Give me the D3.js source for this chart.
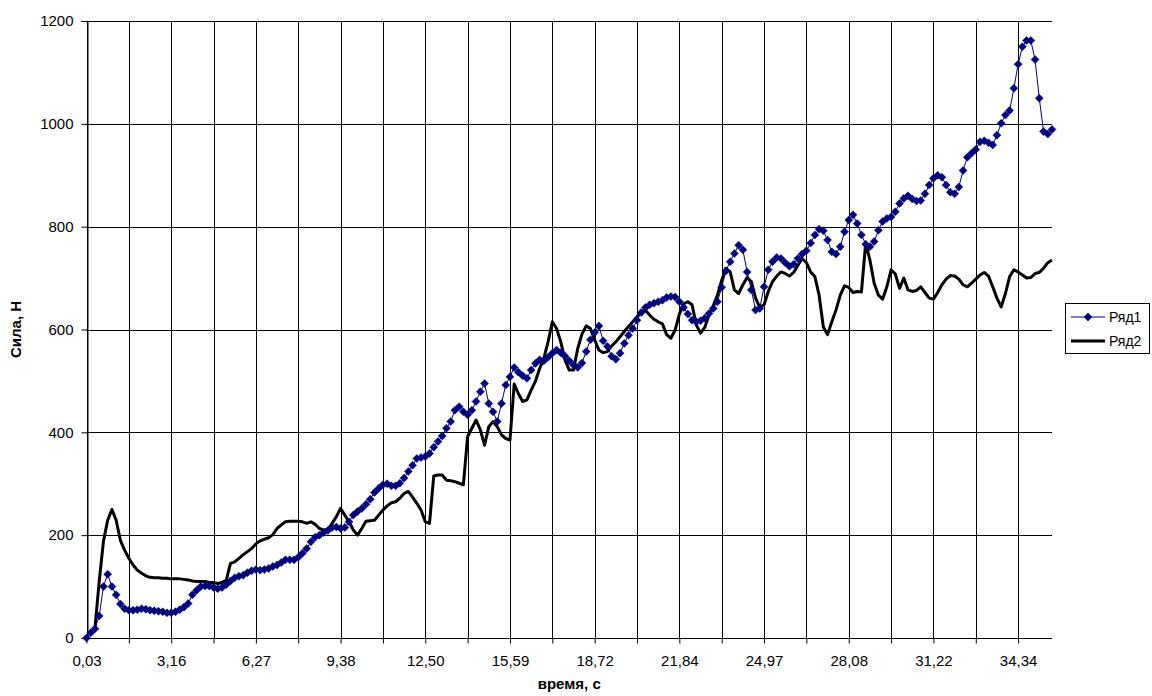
<!DOCTYPE html>
<html>
<head>
<meta charset="utf-8">
<script src="https://cdn.jsdelivr.net/npm/d3@7"></script>
<style>
  body { margin: 0; background: #fff; }
  svg { display: block; }
  text { font-family: Arial, "Liberation Sans", sans-serif; fill: #000; }
</style>
</head>
<body>
<svg id="chart" width="1152" height="696"></svg>
<script>
// ---------------- data ----------------
const seriesNames = ["Ряд1", "Ряд2"];
const xTitle = "время, с";
const yTitle = "Сила, Н";
// category labels shown on the axis (every 20th sample)
const tickLabels = ["0,03", "3,16", "6,27", "9,38", "12,50", "15,59", "18,72", "21,84", "24,97", "28,08", "31,22", "34,34"];
const yTicks = [0, 200, 400, 600, 800, 1000, 1200];

const ryad1 = [
  0, 10, 18, 43, 100, 124, 100, 84, 66, 57,
  54, 54, 55, 57, 56, 54, 53, 52, 51, 49,
  49, 51, 55, 60, 67, 84, 93, 100, 101, 101,
  98, 96, 98, 104, 111, 117, 120, 122, 127, 131,
  133, 132, 133, 135, 139, 142, 147, 152, 152, 152,
  157, 165, 174, 187, 196, 200, 205, 209, 215, 216,
  213, 215, 226, 239, 246, 252, 260, 270, 283, 291,
  298, 300, 296, 296, 301, 311, 324, 336, 349, 351,
  353, 359, 371, 382, 393, 408, 421, 443, 450, 440,
  434, 443, 460, 479, 495, 456, 440, 421, 456, 492,
  508, 526, 517, 510, 505, 521, 534, 541, 539, 546,
  554, 560, 555, 548, 539, 531, 526, 535, 557, 580,
  594, 607, 578, 567, 548, 542, 554, 573, 589, 602,
  618, 633, 643, 648, 651, 654, 657, 662, 664, 663,
  654, 643, 630, 618, 615, 617, 622, 631, 641, 654,
  682, 714, 732, 748, 764, 755, 712, 677, 638, 641,
  683, 716, 732, 740, 738, 730, 723, 727, 738, 747,
  753, 768, 784, 795, 792, 774, 751, 747, 761, 790,
  813, 823, 806, 784, 766, 761, 771, 793, 810, 816,
  819, 829, 845, 855, 860, 854, 850, 851, 864, 881,
  894, 900, 896, 881, 867, 864, 877, 909, 935, 943,
  950, 965, 967, 963, 959, 978, 1001, 1017, 1026, 1069,
  1116, 1150, 1162, 1162, 1125, 1050, 985, 980, 989
];

const ryad2 = [
  null, null, 19, 110, 188, 229, 250, 229, 190, 171,
  155, 142, 132, 126, 121, 118, 117, 117, 116, 116,
  115, 115, 115, 114, 113, 111, 110, 110, 110, 108,
  108, 106, 108, 112, 145, 148, 155, 162, 168, 174,
  183, 189, 192, 195, 201, 213, 220, 226, 227, 227,
  227, 226, 223, 226, 221, 213, 210, 211, 223, 236,
  252, 239, 226, 210, 200, 213, 227, 228, 229, 239,
  249, 257, 263, 265, 272, 281, 285, 274, 262, 249,
  226, 223, 315, 317, 317, 307, 306, 304, 301, 298,
  392, 408, 424, 405, 375, 411, 421, 411, 395, 388,
  385, 494, 475, 460, 463, 482, 499, 524, 544, 576,
  615, 602, 576, 541, 521, 521, 563, 591, 607, 602,
  580, 560, 555, 557, 568, 576, 586, 596, 606, 615,
  625, 633, 637, 628, 620, 615, 611, 590, 583, 599,
  630, 650, 654, 648, 609, 593, 604, 628, 646, 667,
  696, 719, 712, 677, 670, 687, 701, 693, 661, 643,
  648, 674, 693, 704, 712, 709, 704, 711, 725, 738,
  730, 712, 703, 667, 605, 590, 615, 638, 667, 685,
  682, 672, 674, 673, 768, 735, 690, 667, 659, 683,
  716, 708, 680, 700, 677, 674, 676, 683, 672, 661,
  659, 672, 687, 698, 705, 704, 698, 687, 683, 690,
  698, 706, 711, 704, 683, 661, 644, 670, 703, 716,
  712, 706, 700, 701, 709, 711, 719, 730, 735
];

// ---------------- layout ----------------
const plot = { left: 86.5, right: 1052, top: 21, bottom: 638 };
const n = ryad1.length;
const labelEvery = 20, gridEvery = 10;

const svg = d3.select("#chart");

const x = d3.scalePoint()
  .domain(d3.range(n))
  .range([plot.left, plot.right]);

const y = d3.scaleLinear()
  .domain([0, 1200])
  .range([plot.bottom, plot.top]);

const gridIdx = d3.range(0, n, gridEvery);

// horizontal gridlines
svg.append("g")
  .selectAll("line")
  .data(yTicks)
  .join("line")
  .attr("x1", plot.left).attr("x2", plot.right)
  .attr("y1", d => Math.round(y(d)) + 0.5).attr("y2", d => Math.round(y(d)) + 0.5)
  .attr("stroke", "#000").attr("stroke-width", 1);

// vertical gridlines
svg.append("g")
  .selectAll("line")
  .data(gridIdx)
  .join("line")
  .attr("x1", d => Math.round(x(d)) + 0.5).attr("x2", d => Math.round(x(d)) + 0.5)
  .attr("y1", plot.top).attr("y2", plot.bottom)
  .attr("stroke", "#000").attr("stroke-width", 1);

// y axis
const yAxis = d3.axisLeft(y)
  .tickValues(yTicks)
  .tickSize(6)
  .tickPadding(8)
  .tickFormat(d3.format("d"));
const gy = svg.append("g")
  .attr("transform", `translate(${Math.round(plot.left) + 0.5},0)`)
  .call(yAxis);
gy.selectAll("text").style("font-size", "15px");
gy.selectAll("line").attr("stroke", "#000");
gy.select(".domain").attr("stroke", "#000");

// x axis
const xAxis = d3.axisBottom(x)
  .tickValues(gridIdx)
  .tickSize(5)
  .tickPadding(12)
  .tickFormat(i => (i % labelEvery === 0 ? tickLabels[i / labelEvery] : ""));
const gx = svg.append("g")
  .attr("transform", `translate(0,${Math.round(plot.bottom) + 0.5})`)
  .call(xAxis);
gx.select(".domain").attr("d", `M${plot.left},0H${plot.right}`).attr("stroke", "#000");
gx.selectAll("text").style("font-size", "15px");
gx.selectAll("line").attr("stroke", "#000");

// axis titles
svg.append("text")
  .attr("x", (plot.left + plot.right) / 2)
  .attr("y", 689)
  .attr("text-anchor", "middle")
  .style("font-size", "15px")
  .style("font-weight", "bold")
  .text(xTitle);

svg.append("text")
  .attr("transform", `translate(21,${(plot.top + plot.bottom) / 2}) rotate(-90)`)
  .attr("text-anchor", "middle")
  .style("font-size", "15px")
  .style("font-weight", "bold")
  .text(yTitle);

// series
const line = d3.line()
  .defined(d => d != null)
  .x((d, i) => x(i))
  .y(d => y(d));

svg.append("path")
  .datum(ryad2)
  .attr("fill", "none")
  .attr("stroke", "#000")
  .attr("stroke-width", 3)
  .attr("stroke-linejoin", "round")
  .attr("d", line);

svg.append("path")
  .datum(ryad1)
  .attr("fill", "none")
  .attr("stroke", "#000080")
  .attr("stroke-width", 1)
  .attr("d", line);

const diamond = r => `M0,${-r}L${r},0L0,${r}L${-r},0Z`;

svg.append("g")
  .selectAll("path")
  .data(ryad1)
  .join("path")
  .attr("transform", (d, i) => `translate(${x(i)},${y(d)})`)
  .attr("d", diamond(4))
  .attr("fill", "#000080")
  .attr("stroke", "#000080")
  .attr("stroke-width", 0.5);

// legend
const lg = svg.append("g");
lg.append("rect")
  .attr("x", 1065.5).attr("y", 303.5)
  .attr("width", 84).attr("height", 50)
  .attr("fill", "#fff").attr("stroke", "#000").attr("stroke-width", 1);

const legendRows = [
  { name: seriesNames[0], y: 317, color: "#000080", width: 1, marker: true },
  { name: seriesNames[1], y: 341, color: "#000", width: 3, marker: false }
];
legendRows.forEach(r => {
  lg.append("line")
    .attr("x1", 1071).attr("x2", 1105)
    .attr("y1", r.y).attr("y2", r.y)
    .attr("stroke", r.color).attr("stroke-width", r.width);
  if (r.marker) {
    lg.append("path")
      .attr("transform", `translate(1088,${r.y})`)
      .attr("d", diamond(4))
      .attr("fill", r.color).attr("stroke", r.color).attr("stroke-width", 0.5);
  }
  lg.append("text")
    .attr("x", 1109).attr("y", r.y)
    .attr("dy", "0.35em")
    .style("font-size", "14px")
    .text(r.name);
});
</script>
</body>
</html>
